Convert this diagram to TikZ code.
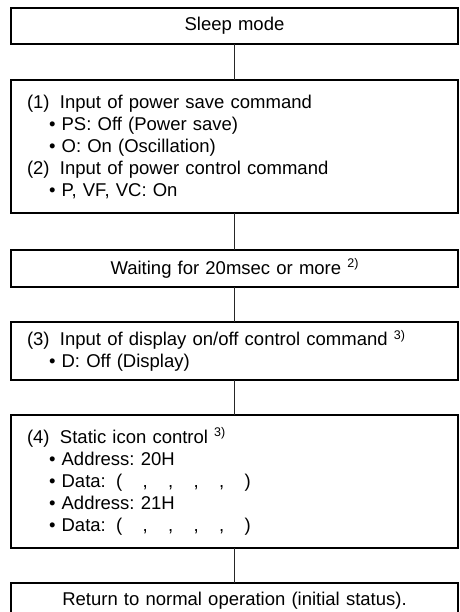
\documentclass[tikz,border=0pt]{standalone}
\usepackage{fontspec}
\setmainfont{Liberation Sans}
\usetikzlibrary{positioning}

\newcommand{\stepno}[1]{\makebox[33pt][l]{#1}}
\newcommand{\bitem}{\hspace*{22pt}\textbullet\ }
\newcommand{\fnmark}[1]{\raisebox{0.65ex}{\fontsize{12.5}{12.5}\selectfont #1}}
\newcommand{\blank}{\hspace{1.1em}}

\begin{document}
\frenchspacing
\begin{tikzpicture}[x=1pt, y=-1pt,
    box/.style={draw, line width=1.2pt, inner xsep=16pt, inner ysep=2pt, outer sep=0pt,
      text width=415pt, align=left, font=\fontsize{18.5}{22}\selectfont},
    cbox/.style={box, align=center},
    link/.style={black!85, line width=0.9pt}
]
\useasboundingbox (0,0) rectangle (459,612);

\node[cbox, minimum height=36pt] (sleep) at (234.5,26) {Sleep mode};
\node[box, minimum height=133pt] (powsave) at (234.5,146.5) {%
  \stepno{(1)}Input of power save command\\
  \bitem PS: Off (Power save)\\
  \bitem O: On (Oscillation)\\
  \stepno{(2)}Input of power control command\\
  \bitem P, VF, VC: On};
\node[cbox, minimum height=37pt] (wait) at (234.5,268.5) {Waiting for 20msec or more \fnmark{2)}};
\node[box, minimum height=58pt] (dispoff) at (234.5,351) {%
  \stepno{(3)}Input of display on/off control command \fnmark{3)}\\
  \bitem D: Off (Display)};
\node[box, minimum height=133pt] (icon) at (234.5,481.5) {%
  \stepno{(4)}Static icon control \fnmark{3)}\\
  \bitem Address: 20H\\
  \bitem Data:\hspace{0.55em}(\blank,\blank,\blank,\blank,\blank)\\
  \bitem Address: 21H\\
  \bitem Data:\hspace{0.55em}(\blank,\blank,\blank,\blank,\blank)};
\node[cbox, minimum height=36pt] (normal) at (234.5,601) {Return to normal operation (initial status).};

\draw[link] (sleep) -- (powsave);
\draw[link] (powsave) -- (wait);
\draw[link] (wait) -- (dispoff);
\draw[link] (dispoff) -- (icon);
\draw[link] (icon) -- (normal);
\end{tikzpicture}
\end{document}
